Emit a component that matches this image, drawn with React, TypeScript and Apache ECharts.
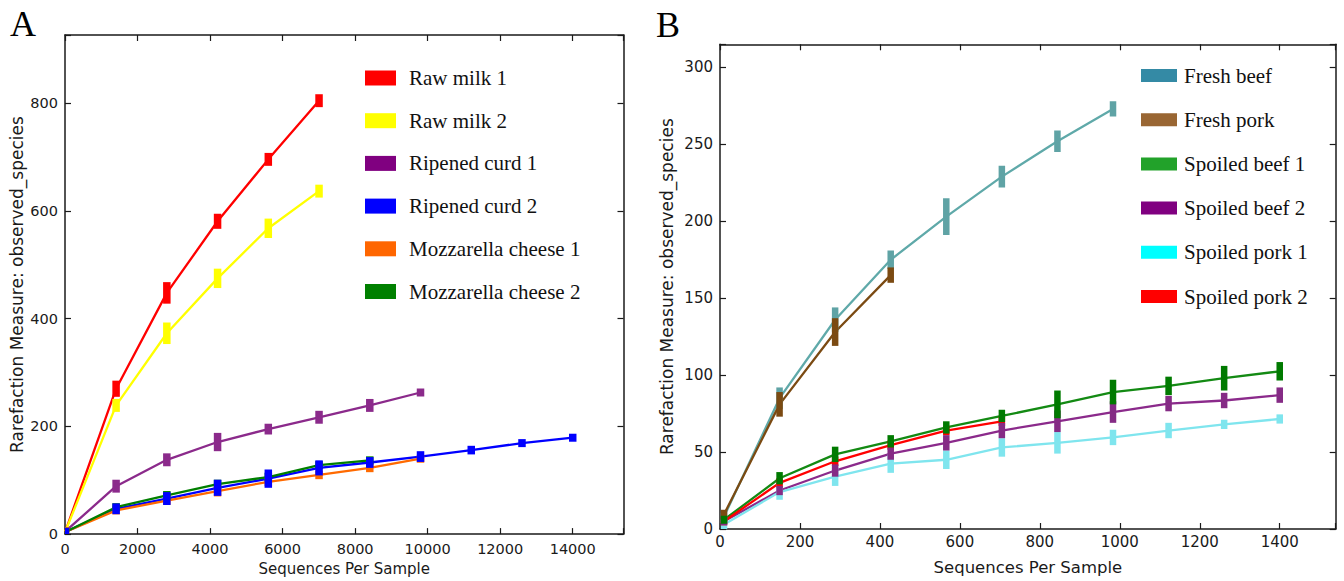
import React, { useEffect, useRef } from "react";
import * as echarts from "echarts";

// ---------- Panel A data ----------
const A_X = [10, 1409, 2808, 4207, 5606, 7005, 8404, 9803, 11202, 12601, 14000];
const A_NAMES = ["Raw milk 1", "Raw milk 2", "Ripened curd 1", "Ripened curd 2", "Mozzarella cheese 1", "Mozzarella cheese 2"];
const A_RAW1 = [5, 270, 448, 581, 696, 805];
const A_RAW1_ERR = [8, 15, 20, 14, 12, 12];
const A_RAW2 = [5, 239, 373, 475, 568, 637];
const A_RAW2_ERR = [4, 12, 20, 18, 18, 12];
const A_CURD1 = [5, 89, 138, 171, 195, 217, 239, 263];
const A_CURD1_ERR = [4, 12, 12, 17, 10, 12, 12, 7];
const A_CURD2 = [4, 47, 66, 86, 103, 123, 133, 144, 156, 169, 179];
const A_CURD2_ERR = [3, 10, 12, 15, 17, 14, 10, 10, 8, 7, 5];
const A_MOZ1 = [4, 44, 62, 80, 97, 110, 123, 140];
const A_MOZ1_ERR = [3, 5, 6, 10, 8, 8, 8, 5];
const A_MOZ2 = [4, 50, 72, 93, 106, 128, 137];
const A_MOZ2_ERR = [3, 5, 8, 8, 8, 6, 6];
const A_LINE_COLORS = ["#ff0000", "#ffff00", "#8b2a8b", "#0000ff", "#ff6a00", "#007f00"];
const A_LEGEND_COLORS = ["#ff0000", "#ffff00", "#800080", "#0000ff", "#ff6600", "#008000"];
const A_BAR_Z = [3, 3, 3, 5, 3, 4];
const A_Y_TICKS = [0, 200, 400, 600, 800];
const A_X_TICKS = [0, 2000, 4000, 6000, 8000, 10000, 12000, 14000];

// ---------- Panel B data ----------
const B_X = [10, 149, 288, 427, 566, 705, 844, 983, 1122, 1261, 1400];
const B_NAMES = ["Fresh beef", "Fresh pork", "Spoiled beef 1", "Spoiled beef 2", "Spoiled pork 1", "Spoiled pork 2"];
const B_FBEEF = [8, 85, 136, 175, 203, 229, 252, 273];
const B_FBEEF_ERR = [2, 7, 8, 6, 12, 7, 7, 5];
const B_FPORK = [9.5, 81, 128, 165];
const B_FPORK_ERR = [3, 8, 9, 5];
const B_SBEEF1 = [6, 33, 48.5, 57, 66, 73.5, 81, 89, 93, 98, 102.5];
const B_SBEEF1_ERR = [2, 4, 5, 4, 4, 4, 9, 8, 6, 8, 6];
const B_SBEEF2 = [5, 25, 38, 49, 56, 64, 70, 76, 81.5, 83.5, 87];
const B_SBEEF2_ERR = [2, 3, 4, 4, 5, 5, 7, 7, 5, 5, 5];
const B_SPORK1 = [3, 24, 34, 42.5, 45, 53, 56, 59.5, 64, 68, 71.5];
const B_SPORK1_ERR = [3, 5, 6, 6, 6, 6, 7, 5, 5, 3, 3];
const B_SPORK2 = [5, 30, 44, 54.5, 64, 70];
const B_SPORK2_ERR = [2, 3, 3, 3, 3, 3];
const B_LINE_COLORS = ["#5fa9a9", "#7b4a12", "#138a13", "#8b2a8b", "#7fe5ee", "#ff0000"];
const B_BAR_COLORS = ["#5fa3a5", "#7b4a12", "#007a00", "#852b85", "#7fe5ee", "#ff0000"];
const B_LEGEND_COLORS = ["#348aa5", "#996633", "#22a22a", "#800080", "#00ffff", "#ff0000"];
const B_BAR_Z = [3, 3, 5, 4, 3, 3];
const B_Y_TICKS = [0, 50, 100, 150, 200, 250, 300];
const B_X_TICKS = [0, 200, 400, 600, 800, 1000, 1200, 1400];

const A_VALUES = [A_RAW1, A_RAW2, A_CURD1, A_CURD2, A_MOZ1, A_MOZ2];
const A_ERRS = [A_RAW1_ERR, A_RAW2_ERR, A_CURD1_ERR, A_CURD2_ERR, A_MOZ1_ERR, A_MOZ2_ERR];
const B_VALUES = [B_FBEEF, B_FPORK, B_SBEEF1, B_SBEEF2, B_SPORK1, B_SPORK2];
const B_ERRS = [B_FBEEF_ERR, B_FPORK_ERR, B_SBEEF1_ERR, B_SBEEF2_ERR, B_SPORK1_ERR, B_SPORK2_ERR];

const AXIS_COLOR = "#1a1a1a";
const SANS = "DejaVu Sans";
const SERIF = "Liberation Serif";

function makeAxisPair(gridIndex: number, min: number, max: number, interval: number, ticks: number[], fontSize: number, margin: number, isX: boolean, name: string, nameGap: number, nameSize: number) {
  const fmt = (v: number) => (ticks.includes(v) ? String(v) : "");
  const main: any = {
    type: "value",
    gridIndex,
    min,
    max,
    interval,
    position: isX ? "bottom" : "left",
    name,
    nameLocation: "middle",
    nameGap,
    nameTextStyle: { fontFamily: SANS, fontSize: nameSize, color: AXIS_COLOR },
    axisLine: { show: true, onZero: false, lineStyle: { color: AXIS_COLOR, width: 1.5 } },
    axisTick: { show: true, inside: true, length: 6, lineStyle: { color: AXIS_COLOR, width: 1.2 } },
    axisLabel: { show: true, formatter: fmt, fontFamily: SANS, fontSize, color: AXIS_COLOR, margin },
    splitLine: { show: false },
  };
  const mirror: any = {
    type: "value",
    gridIndex,
    min,
    max,
    interval,
    position: isX ? "top" : "right",
    axisLine: { show: true, onZero: false, lineStyle: { color: AXIS_COLOR, width: 1.5 } },
    axisTick: { show: true, inside: true, length: 6, lineStyle: { color: AXIS_COLOR, width: 1.2 } },
    axisLabel: { show: false },
    splitLine: { show: false },
  };
  return [main, mirror];
}

function errorRender(color: string, barW: number, minH: number) {
  return (params: any, api: any) => {
    const x = api.value(0);
    const y = api.value(1);
    const e = api.value(2);
    const top = api.coord([x, y + e]);
    const bot = api.coord([x, y - e]);
    let h = bot[1] - top[1];
    const cy = (bot[1] + top[1]) / 2;
    if (h < minH) h = minH;
    return {
      type: "rect",
      shape: { x: top[0] - barW / 2, y: cy - h / 2, width: barW, height: h },
      style: { fill: color },
    };
  };
}

function buildSeries(names: string[], xs: number[], values: number[][], errs: number[][], lineColors: string[], barColors: string[], barZ: number[], axisIdx: number, barW: number) {
  const lines: any[] = [];
  const bars: any[] = [];
  names.forEach((name, k) => {
    const vals = values[k];
    lines.push({
      type: "line",
      name,
      xAxisIndex: axisIdx,
      yAxisIndex: axisIdx,
      data: vals.map((v, i) => [xs[i], v]),
      showSymbol: false,
      symbol: "none",
      lineStyle: { color: lineColors[k], width: 2.3 },
      itemStyle: { color: lineColors[k] },
      z: 2,
    });
    bars.push({
      type: "custom",
      name,
      xAxisIndex: axisIdx,
      yAxisIndex: axisIdx,
      data: vals.map((v, i) => [xs[i], v, errs[k][i]]),
      encode: { x: 0, y: 1 },
      renderItem: errorRender(barColors[k], barW, 8),
      clip: true,
      z: barZ[k],
    });
  });
  return [...lines, ...bars];
}

export default function App() {
  const ref = useRef<HTMLDivElement>(null);
  useEffect(() => {
    if (!ref.current) return;
    const chart = echarts.init(ref.current, null, { renderer: "svg" });
    const [axA, axAtop] = makeAxisPair(0, 0, 15400, 2000, A_X_TICKS, 14.5, 7, true, "Sequences Per Sample", 26, 15);
    const [ayA, ayAright] = makeAxisPair(0, 0, 927, 200, A_Y_TICKS, 14.5, 7, false, "Rarefaction Measure: observed_species", 40, 17);
    const [axB, axBtop] = makeAxisPair(1, 0, 1540, 200, B_X_TICKS, 15, 5, true, "Sequences Per Sample", 30, 16.5);
    const [ayB, ayBright] = makeAxisPair(1, 0, 315, 50, B_Y_TICKS, 15, 7, false, "Rarefaction Measure: observed_species", 45, 17);

    const legendText = (pad: number) => ({
      fontFamily: SERIF,
      fontSize: 21,
      lineHeight: 21,
      color: "#111",
      padding: [0, 0, 0, pad],
    });

    const option: any = {
      animation: false,
      backgroundColor: "#ffffff",
      grid: [
        { left: 65, top: 35, width: 558.5, height: 502, containLabel: false },
        { left: 720, top: 44.3, width: 615.7, height: 487.4, containLabel: false },
      ],
      xAxis: [axA, axAtop, axB, axBtop],
      yAxis: [ayA, ayAright, ayB, ayBright],
      legend: [
        {
          orient: "vertical",
          left: 360,
          top: 62.5,
          itemWidth: 31,
          itemHeight: 15,
          itemGap: 21.7,
          icon: "rect",
          selectedMode: false,
          textStyle: legendText(8),
          data: A_NAMES.map((n, i) => ({ name: n, icon: "rect", itemStyle: { color: A_LEGEND_COLORS[i], borderWidth: 0 } })),
        },
        {
          orient: "vertical",
          left: 1136,
          top: 60,
          itemWidth: 36,
          itemHeight: 13,
          itemGap: 23.2,
          icon: "rect",
          selectedMode: false,
          textStyle: legendText(2),
          data: B_NAMES.map((n, i) => ({ name: n, icon: "rect", itemStyle: { color: B_LEGEND_COLORS[i], borderWidth: 0 } })),
        },
      ],
      graphic: [
        { type: "text", x: 10, y: 24, style: { text: "A", fontSize: 36, fontFamily: SERIF, fill: "#000", align: "left", verticalAlign: "middle" } },
        { type: "text", x: 656, y: 25, style: { text: "B", fontSize: 36, fontFamily: SERIF, fill: "#000", align: "left", verticalAlign: "middle" } },
      ],
      series: [
        ...buildSeries(A_NAMES, A_X, A_VALUES, A_ERRS, A_LINE_COLORS, A_LINE_COLORS, A_BAR_Z, 0, 7.5),
        ...buildSeries(B_NAMES, B_X, B_VALUES, B_ERRS, B_LINE_COLORS, B_BAR_COLORS, B_BAR_Z, 2, 6.5),
      ],
    };
    chart.setOption(option);
    return () => chart.dispose();
  }, []);
  return (
    <div
      ref={ref}
      style={{ position: "fixed", left: 0, top: 0, width: 1344, height: 581, background: "#fff" }}
    />
  );
}
